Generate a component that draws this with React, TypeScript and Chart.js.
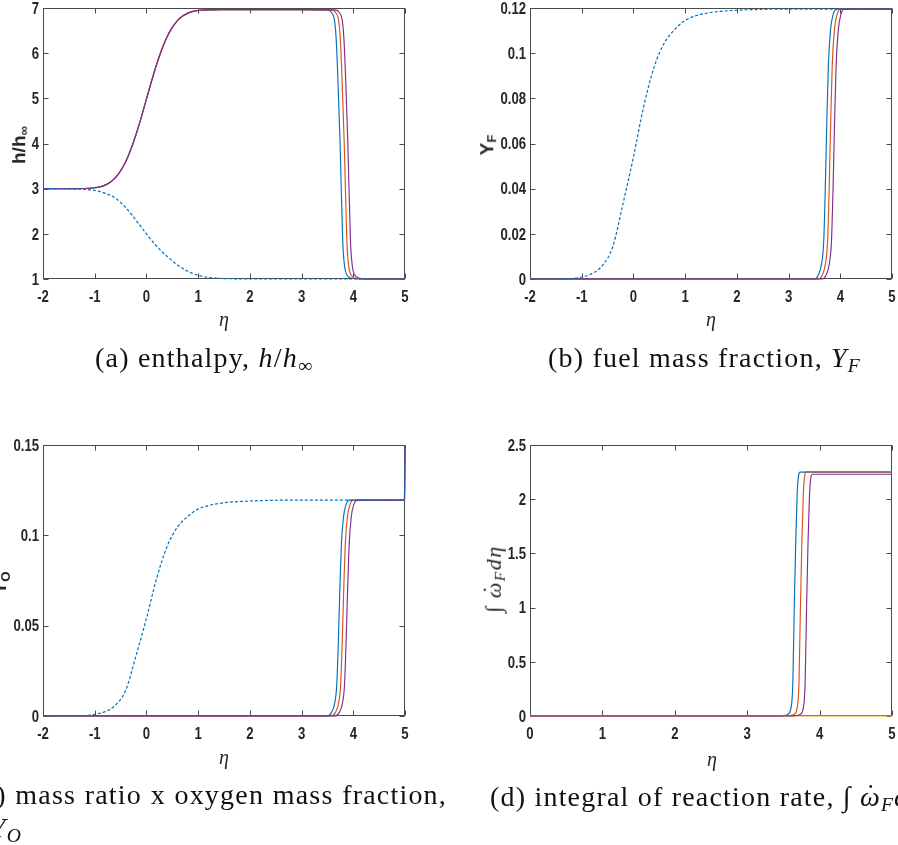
import React, { useEffect, useRef } from "react";
import { Chart, registerables } from "chart.js";
Chart.register(...registerables);

// ---------- colours & fonts ----------
const BLUE = "#0072BD";
const ORANGE = "#D95319";
const YELLOW = "#EDB120";
const PURPLE = "#7E2F8E";
const INK = "#262626";
const BOX = "#4a4a4a";
const SANS = "'Liberation Sans', Arial, sans-serif";
const SERIF = "'Liberation Serif', 'DejaVu Serif', serif";

// ---------- panel (a): enthalpy ----------
const aTicksX = [-2, -1, 0, 1, 2, 3, 4, 5];
const aTicksY = [1, 2, 3, 4, 5, 6, 7];
const aDashEta = [-2, -1.4, -1.2, -1.0, -0.8, -0.6, -0.4, -0.2, 0, 0.2, 0.4, 0.6, 0.8, 1.0, 1.2, 1.4, 1.7, 2, 3, 4, 5];
const aDash = [3, 2.995, 2.985, 2.96, 2.9, 2.79, 2.58, 2.3, 2.0, 1.72, 1.5, 1.31, 1.17, 1.08, 1.035, 1.015, 1.004, 1.0, 1.0, 1.0, 1.0];
const aRiseEta = [-2, -1.5, -1.2, -1.0, -0.9, -0.8, -0.7, -0.6, -0.5, -0.4, -0.3, -0.2, -0.1, 0, 0.1, 0.2, 0.3, 0.4, 0.5, 0.6, 0.7, 0.8, 0.9, 1.0, 1.2, 1.5, 2, 3];
const aRise = [3, 3, 3.004, 3.021, 3.039, 3.078, 3.142, 3.243, 3.395, 3.602, 3.873, 4.204, 4.58, 4.983, 5.385, 5.761, 6.092, 6.363, 6.57, 6.722, 6.823, 6.887, 6.926, 6.944, 6.958, 6.963, 6.965, 6.965];
const aBlueDropEta = [3.5, 3.58, 3.64, 3.67, 3.7, 3.745, 3.795, 3.83, 3.9, 4.0, 4.1, 5];
const aOrangeDropEta = [3.58, 3.66, 3.72, 3.75, 3.78, 3.825, 3.875, 3.91, 3.98, 4.08, 4.18, 5];
const aPurpleDropEta = [3.65, 3.73, 3.79, 3.82, 3.85, 3.895, 3.945, 3.98, 4.05, 4.15, 4.25, 5];
const aDrop = [6.96, 6.9, 6.7, 6.3, 5.5, 4.0, 1.86, 1.3, 1.06, 1.01, 1.0, 1.0];

// ---------- panel (b): fuel mass fraction ----------
const bTicksY = [0, 0.02, 0.04, 0.06, 0.08, 0.1, 0.12];
const bDashEta = [-2, -1.5, -1.2, -1.0, -0.8, -0.6, -0.4, -0.2, 0, 0.2, 0.4, 0.6, 0.8, 1.0, 1.2, 1.5, 2, 3, 4, 5];
const bDash = [0, 0, 0.0002, 0.0009, 0.0024, 0.006, 0.0143, 0.0335, 0.054, 0.0765, 0.0938, 0.1046, 0.1105, 0.1145, 0.1165, 0.118, 0.119, 0.1195, 0.1195, 0.1195];
const bBlueEta = [-2, 3.5, 3.58, 3.64, 3.68, 3.71, 3.74, 3.77, 3.81, 3.86, 3.93, 5];
const bOrangeEta = [-2, 3.575, 3.655, 3.715, 3.755, 3.785, 3.815, 3.845, 3.885, 3.935, 4.005, 5];
const bPurpleEta = [-2, 3.65, 3.73, 3.79, 3.83, 3.86, 3.89, 3.92, 3.96, 4.01, 4.08, 5];
const bRise = [0, 0, 0.002, 0.007, 0.017, 0.04, 0.07, 0.095, 0.11, 0.117, 0.1195, 0.1195];

// ---------- panel (c): mass ratio x oxygen mass fraction ----------
const cTicksY = [0, 0.05, 0.1, 0.15];
const cDashEta = [-2, -1.5, -1.2, -1.0, -0.8, -0.6, -0.4, -0.2, 0, 0.2, 0.4, 0.6, 0.8, 1.0, 1.2, 1.5, 2, 3, 4, 4.99, 5];
const cDash = [0, 0, 0.0002, 0.0009, 0.0024, 0.006, 0.0143, 0.0335, 0.054, 0.0765, 0.0938, 0.1046, 0.1105, 0.1145, 0.1165, 0.118, 0.119, 0.1195, 0.1195, 0.1195, 0.15];
const cBlueEta = [-2, 3.5, 3.58, 3.64, 3.68, 3.71, 3.74, 3.77, 3.81, 3.86, 3.93, 4.99, 5];
const cOrangeEta = [-2, 3.575, 3.655, 3.715, 3.755, 3.785, 3.815, 3.845, 3.885, 3.935, 4.005, 4.99, 5];
const cPurpleEta = [-2, 3.65, 3.73, 3.79, 3.83, 3.86, 3.89, 3.92, 3.96, 4.01, 4.08, 4.99, 5];
const cRise = [0, 0, 0.002, 0.007, 0.017, 0.04, 0.07, 0.095, 0.11, 0.117, 0.1195, 0.1195, 0.15];

// ---------- panel (d): integral of reaction rate ----------
const dTicksX = [0, 1, 2, 3, 4, 5];
const dTicksY = [0, 0.5, 1, 1.5, 2, 2.5];
const dBlueEta = [0, 3.4, 3.5, 3.56, 3.6, 3.63, 3.65, 3.67, 3.69, 3.71, 3.73, 5];
const dBlue = [0, 0, 0.003, 0.015, 0.06, 0.3, 1.0, 1.6, 2.05, 2.22, 2.25, 2.25];
const dOrangeEta = [0, 3.485, 3.585, 3.645, 3.685, 3.715, 3.735, 3.755, 3.775, 3.795, 3.815, 5];
const dOrange = [0, 0, 0.003, 0.015, 0.06, 0.3, 1.0, 1.6, 2.05, 2.22, 2.252, 2.252];
const dPurpleEta = [0, 3.57, 3.67, 3.73, 3.77, 3.8, 3.82, 3.84, 3.86, 3.88, 3.9, 5];
const dPurple = [0, 0, 0.003, 0.015, 0.06, 0.3, 1.0, 1.6, 2.03, 2.2, 2.23, 2.23];
const dYellowEta = [0, 5];
const dYellow = [0, 0];

// ---------- helpers ----------
const pts = (xs: number[], ys: number[]) => xs.map((x, i) => ({ x, y: ys[i] }));
const fmt = (v: any) => String(Number(Number(v).toFixed(4)));

function line(xs: number[], ys: number[], color: string, order: number, dashed = false) {
  return {
    data: pts(xs, ys),
    borderColor: color,
    borderWidth: dashed ? 1.2 : 1.15,
    borderDash: dashed ? [3, 2] : [],
    order,
    pointRadius: 0,
    fill: false,
    clip: { left: 1, top: 1, right: 2, bottom: 1 },
    cubicInterpolationMode: "monotone" as const,
  };
}

// MATLAB-like box, inward ticks and condensed bold tick labels
const boxPlugin = {
  id: "matlabBox",
  beforeDatasetsDraw(chart: any) {
    const { ctx, chartArea: a, scales } = chart;
    ctx.save();
    ctx.strokeStyle = BOX;
    ctx.lineWidth = 1;
    const L = Math.round(a.left) + 0.5;
    const R = Math.round(a.right) - 0.5;
    const T = Math.round(a.top) + 0.5;
    const B = Math.round(a.bottom) - 0.5;
    ctx.strokeRect(L, T, R - L, B - T);
    const tl = 5;
    ctx.beginPath();
    scales.x.ticks.forEach((tk: any) => {
      const px = Math.round(scales.x.getPixelForValue(tk.value)) + 0.5;
      ctx.moveTo(px, B);
      ctx.lineTo(px, B - tl);
      ctx.moveTo(px, T);
      ctx.lineTo(px, T + tl);
    });
    scales.y.ticks.forEach((tk: any) => {
      const py = Math.round(scales.y.getPixelForValue(tk.value)) + 0.5;
      ctx.moveTo(L, py);
      ctx.lineTo(L + tl, py);
      ctx.moveTo(R, py);
      ctx.lineTo(R - tl, py);
    });
    ctx.stroke();

    // tick labels
    ctx.fillStyle = INK;
    ctx.font = `bold 16px ${SANS}`;
    ctx.textBaseline = "alphabetic";
    const sx = 0.82;
    ctx.textAlign = "center";
    scales.x.ticks.forEach((tk: any) => {
      const px = scales.x.getPixelForValue(tk.value);
      ctx.save();
      ctx.translate(px, a.bottom + 23);
      ctx.scale(sx, 1);
      ctx.fillText(fmt(tk.value), 0, 0);
      ctx.restore();
    });
    ctx.textAlign = "right";
    scales.y.ticks.forEach((tk: any) => {
      const py = scales.y.getPixelForValue(tk.value);
      ctx.save();
      ctx.translate(a.left - 4, py + 5.8);
      ctx.scale(sx, 1);
      ctx.fillText(fmt(tk.value), 0, 0);
      ctx.restore();
    });
    ctx.restore();
  },
};

type Geo = { x0: number; y0: number; x1: number; y1: number };

function Panel(props: { g: Geo; xTicks: number[]; yTicks: number[]; datasets: any[] }) {
  const { g, xTicks, yTicks, datasets } = props;
  const ref = useRef<HTMLCanvasElement | null>(null);
  const YW = 60, PT = 20, PR = 20, XH = 80;
  const left = g.x0 - YW;
  const top = g.y0 - PT;
  const w = g.x1 - g.x0 + YW + PR;
  const h = g.y1 - g.y0 + PT + XH;
  useEffect(() => {
    const chart = new Chart(ref.current as HTMLCanvasElement, {
      type: "line",
      data: { datasets },
      options: {
        animation: false,
        responsive: false,
        maintainAspectRatio: false,
        devicePixelRatio: 1,
        layout: { padding: { left: 0, top: PT, right: PR, bottom: 0 } },
        plugins: { legend: { display: false }, tooltip: { enabled: false } },
        elements: { point: { radius: 0 } },
        scales: {
          x: {
            type: "linear",
            min: xTicks[0],
            max: xTicks[xTicks.length - 1],
            afterBuildTicks: (s: any) => { s.ticks = xTicks.map((v) => ({ value: v })); },
            ticks: { display: false, callback: fmt },
            grid: { display: false, drawTicks: false },
            border: { display: false },
            afterFit: (s: any) => { s.height = XH; },
          },
          y: {
            type: "linear",
            min: yTicks[0],
            max: yTicks[yTicks.length - 1],
            afterBuildTicks: (s: any) => { s.ticks = yTicks.map((v) => ({ value: v })); },
            ticks: { display: false, callback: fmt },
            grid: { display: false, drawTicks: false },
            border: { display: false },
            afterFit: (s: any) => { s.width = YW; },
          },
        },
      } as any,
      plugins: [boxPlugin],
    });
    return () => chart.destroy();
  }, []);
  return (
    <canvas
      ref={ref}
      width={w}
      height={h}
      style={{ position: "absolute", left, top, width: w, height: h }}
    />
  );
}

function RotLabel(props: { cx: number; cy: number; style?: any; children: any }) {
  return (
    <div
      style={{
        position: "absolute",
        left: props.cx,
        top: props.cy,
        transform: "translate(-50%, -50%) rotate(-90deg)",
        whiteSpace: "nowrap",
        lineHeight: 1,
        color: INK,
        ...props.style,
      }}
    >
      {props.children}
    </div>
  );
}

function Eta(props: { cx: number; cy: number }) {
  return (
    <div
      style={{
        position: "absolute",
        left: props.cx,
        top: props.cy,
        transform: "translate(-50%, -50%)",
        fontFamily: SERIF,
        fontStyle: "italic",
        fontSize: 20,
        lineHeight: 1,
        color: INK,
      }}
    >
      η
    </div>
  );
}

function OmegaDot() {
  return (
    <span style={{ position: "relative", display: "inline-block", fontStyle: "italic", lineHeight: 1 }}>
      ω
      <span
        style={{
          position: "absolute",
          left: "0.22em",
          top: "-0.12em",
          fontStyle: "normal",
          lineHeight: 1,
        }}
      >
        ˙
      </span>
    </span>
  );
}

const sub = { fontSize: "70%", verticalAlign: "-0.25em" };
const isub = { ...sub, fontStyle: "italic" };
const capStyle = {
  position: "absolute" as const,
  fontFamily: SERIF,
  fontSize: 28,
  letterSpacing: 1.2,
  lineHeight: 1,
  color: "#111",
  whiteSpace: "nowrap" as const,
};

const gA = { x0: 43, y0: 8, x1: 405, y1: 279 };
const gB = { x0: 530, y0: 8, x1: 892, y1: 279 };
const gC = { x0: 43, y0: 445, x1: 405, y1: 716 };
const gD = { x0: 530, y0: 445, x1: 892, y1: 716 };

export default function App() {
  const dsA = [
    line(aDashEta, aDash, BLUE, 0, true),
    line(aRiseEta.concat(aBlueDropEta), aRise.concat(aDrop), BLUE, 4),
    line(aRiseEta.concat(aOrangeDropEta), aRise.concat(aDrop), ORANGE, 3),
    line(aRiseEta.concat(aPurpleDropEta), aRise.concat(aDrop), PURPLE, 1),
  ];
  const dsB = [
    line(bDashEta, bDash, BLUE, 0, true),
    line(bBlueEta, bRise, BLUE, 4),
    line(bOrangeEta, bRise, ORANGE, 3),
    line(bPurpleEta, bRise, PURPLE, 1),
  ];
  const dsC = [
    line(cDashEta, cDash, BLUE, 0, true),
    line(cBlueEta, cRise, BLUE, 4),
    line(cOrangeEta, cRise, ORANGE, 3),
    line(cPurpleEta, cRise, PURPLE, 1),
  ];
  const dsD = [
    line(dBlueEta, dBlue, BLUE, 4),
    line(dOrangeEta, dOrange, ORANGE, 3),
    line(dYellowEta, dYellow, YELLOW, 2),
    line(dPurpleEta, dPurple, PURPLE, 1),
  ];
  return (
    <div
      style={{
        position: "absolute",
        left: 0,
        top: 0,
        width: 898,
        height: 845,
        overflow: "hidden",
        background: "#fff",
      }}
    >
      <Panel g={gA} xTicks={aTicksX} yTicks={aTicksY} datasets={dsA} />
      <Panel g={gB} xTicks={aTicksX} yTicks={bTicksY} datasets={dsB} />
      <Panel g={gC} xTicks={aTicksX} yTicks={cTicksY} datasets={dsC} />
      <Panel g={gD} xTicks={dTicksX} yTicks={dTicksY} datasets={dsD} />

      <RotLabel cx={20} cy={145} style={{ fontFamily: SANS, fontWeight: "bold", fontSize: 19 }}>
        h/h<sub style={sub}>∞</sub>
      </RotLabel>
      <RotLabel cx={488} cy={145} style={{ fontFamily: SANS, fontWeight: "bold", fontSize: 19 }}>
        Y<sub style={sub}>F</sub>
      </RotLabel>
      <RotLabel cx={1} cy={583} style={{ fontFamily: SANS, fontWeight: "bold", fontSize: 19 }}>
        Y<sub style={sub}>O</sub>
      </RotLabel>
      <RotLabel cx={495} cy={579} style={{ fontFamily: SERIF, fontSize: 22, letterSpacing: 1.5 }}>
        ∫ <OmegaDot /><sub style={isub}>F</sub><i>dη</i>
      </RotLabel>

      <Eta cx={224} cy={319} />
      <Eta cx={711} cy={319} />
      <Eta cx={224} cy={757} />
      <Eta cx={712} cy={759} />

      <div style={{ ...capStyle, left: 95, top: 344 }}>
        (a) enthalpy, <i>h</i>/<i>h</i><sub style={sub}>∞</sub>
      </div>
      <div style={{ ...capStyle, left: 548, top: 344 }}>
        (b) fuel mass fraction, <i>Y</i><sub style={isub}>F</sub>
      </div>
      <div style={{ ...capStyle, left: -28, top: 781, width: 475, textAlign: "justify", textAlignLast: "justify" as any }}>
        (c) mass ratio x oxygen mass fraction,
      </div>
      <div style={{ ...capStyle, left: -10, top: 814 }}>
        <i>Y</i><sub style={isub}>O</sub>
      </div>
      <div style={{ ...capStyle, left: 490, top: 783 }}>
        (d) integral of reaction rate, ∫ <OmegaDot /><sub style={isub}>F</sub><i>dη</i>
      </div>
    </div>
  );
}
